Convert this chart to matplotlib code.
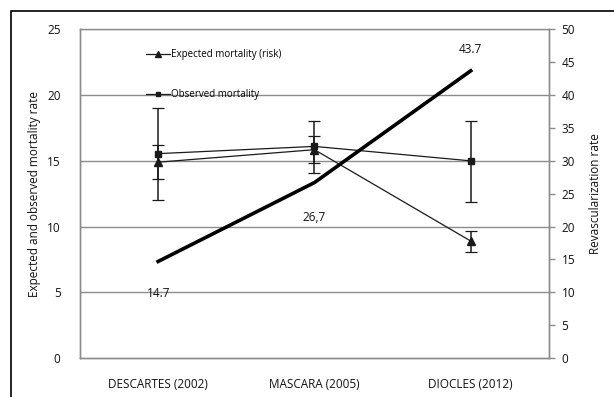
import matplotlib
matplotlib.use("Agg")
import matplotlib.pyplot as plt
import matplotlib.patches as mpatches
from matplotlib.lines import Line2D
import numpy as np

plt.rcParams["font.family"] = ["Open Sans", "DejaVu Sans"]

# ── data ─────────────────────────────────────────────────────────────────────
studies = ["DESCARTES (2002)", "MASCARA (2005)", "DIOCLES (2012)"]

expected = [14.9, 15.85, 8.9]
expected_lo = [13.6, 14.8, 8.1]
expected_hi = [16.2, 16.9, 9.7]

observed = [15.55, 16.1, 15.0]
observed_lo = [12.0, 14.05, 11.9]
observed_hi = [19.0, 18.05, 18.05]

revasc = [14.7, 26.7, 43.7]
revasc_labels = ["14.7", "26,7", "43.7"]
label_offsets = [-23, -25, 15]   # points, below / above the line

# ── plot ─────────────────────────────────────────────────────────────────────
fig = plt.figure(figsize=(6.14, 3.97), dpi=100)
fig.patch.set_facecolor("white")
ax = fig.add_axes([0.1303, 0.098, 0.7637, 0.828])
ax2 = ax.twinx()

x = np.arange(len(studies)) + 0.5
GRID = "#8c8c8c"
INK = "#111111"

for yv in [5, 10, 15, 20, 25]:
    ax.axhline(yv, color=GRID, lw=1.0, zorder=0)

exp_err = [np.subtract(expected, expected_lo), np.subtract(expected_hi, expected)]
obs_err = [np.subtract(observed, observed_lo), np.subtract(observed_hi, observed)]

ax.errorbar(x, expected, yerr=exp_err, color="#1a1a1a", lw=0.9, marker="^",
            ms=6, capsize=4, capthick=0.9, elinewidth=1.1, zorder=3)
ax.errorbar(x, observed, yerr=obs_err, color="#1a1a1a", lw=0.9, marker="s",
            ms=4, capsize=4, capthick=0.9, elinewidth=1.1, zorder=3)

ax2.plot(x, revasc, color="black", lw=2.6, zorder=4)
for xi, v, txt, off in zip(x, revasc, revasc_labels, label_offsets):
    ax2.annotate(txt, (xi, v), xytext=(0, off), textcoords="offset points",
                 ha="center", va="center", fontsize=8.5, color=INK)

ax.set_xlim(0, 3)
ax.set_ylim(0, 25)
ax2.set_ylim(0, 50)
ax.set_yticks(np.arange(0, 26, 5))
ax2.set_yticks(np.arange(0, 51, 5))
ax.set_xticks(x)
ax.set_xticklabels(studies)

for a in (ax, ax2):
    for sp in a.spines.values():
        sp.set_color(GRID)
        sp.set_linewidth(1.0)
ax2.spines["top"].set_visible(False)

ax.tick_params(axis="y", length=0, pad=14, labelsize=8.5, labelcolor=INK)
ax.tick_params(axis="x", length=0, pad=14, labelsize=8.5, labelcolor=INK)
ax2.tick_params(axis="y", length=4, width=1, color=GRID, pad=5, labelsize=8.5,
                labelcolor=INK)

ax.set_ylabel("Expected and observed mortality rate", fontsize=8.5, labelpad=4,
              color=INK)
ax2.set_ylabel("Revascularization rate", fontsize=8.5, labelpad=10, color=INK)

handles = [
    Line2D([], [], color="#1a1a1a", lw=0.9, marker="^", ms=4),
    Line2D([], [], color="#1a1a1a", lw=0.9, marker="s", ms=3),
]
ax.legend(handles, ["Expected mortality (risk)", "Observed mortality"],
          loc="upper left", bbox_to_anchor=(0.13, 0.955), frameon=False,
          fontsize=7, handlelength=2.5, handletextpad=0.1, labelspacing=3.0,
          borderpad=0)

# outer frame
fig.patches.append(mpatches.Rectangle((10.5 / 614, -0.1), 1.2, 1.1 - 10.5 / 397,
                                      transform=fig.transFigure, fill=False,
                                      edgecolor="black", lw=1.2))

plt.savefig("out.png", dpi=100, facecolor="white")
